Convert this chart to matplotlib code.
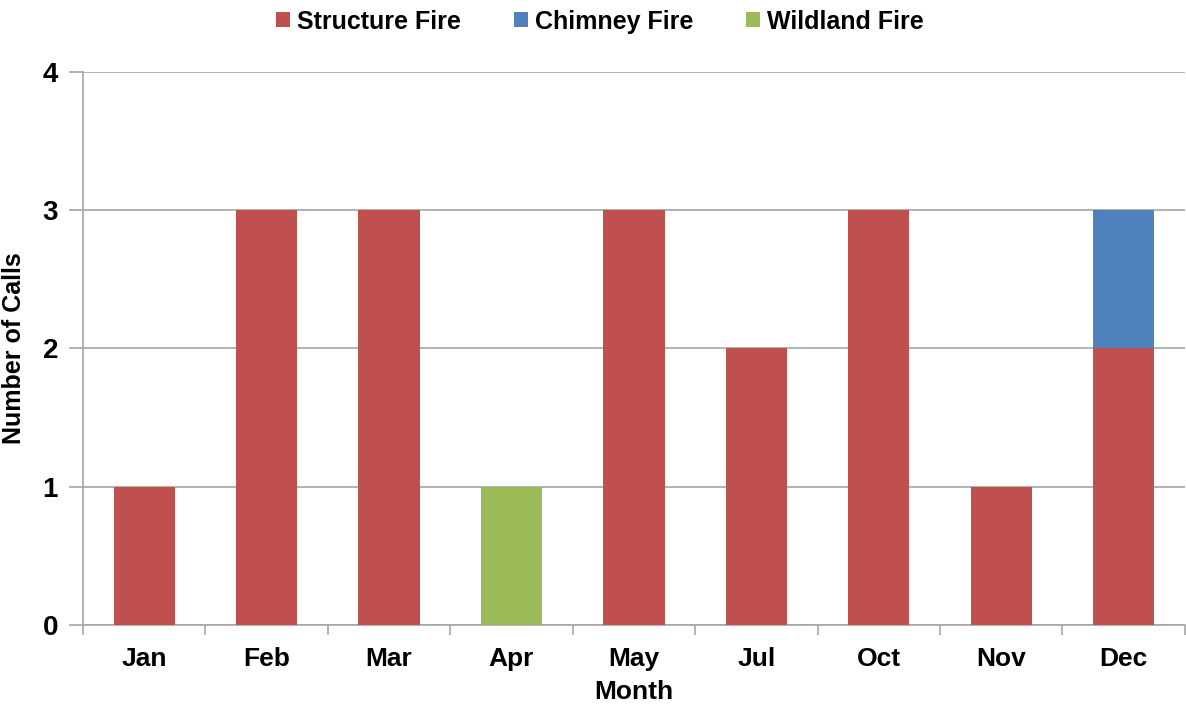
import numpy as np
import matplotlib.pyplot as plt

# Data
months = ['Jan', 'Feb', 'Mar', 'Apr', 'May', 'Jul', 'Oct', 'Nov', 'Dec']
structure = [1, 3, 3, 0, 3, 2, 3, 1, 2]
chimney = [0, 0, 0, 0, 0, 0, 0, 0, 1]
wildland = [0, 0, 0, 1, 0, 0, 0, 0, 0]

plt.rcParams['font.family'] = ['Liberation Sans', 'DejaVu Sans']
plt.rcParams['font.weight'] = 'bold'

fig = plt.figure(figsize=(11.86, 7.09), dpi=100)
ax = fig.add_axes([0.070, 0.1185, 0.929, 0.78])

x = np.arange(len(months))
w = 0.5
s = np.array(structure)
c = np.array(chimney)
wl = np.array(wildland)

ax.bar(x, s, w, color='#C0504D', label='Structure Fire', zorder=3)
ax.bar(x, c, w, bottom=s, color='#4F81BD', label='Chimney Fire', zorder=3)
ax.bar(x, wl, w, bottom=s + c, color='#9BBB59', label='Wildland Fire', zorder=3)

ax.set_xlim(-0.5, len(months) - 0.5)
ax.set_ylim(0, 4)
ax.set_yticks([0, 1, 2, 3, 4])
ax.yaxis.grid(True, color='#A6A6A6', linewidth=1.2, zorder=0)

# month labels centred, tick marks between categories
ax.set_xticks(x)
ax.set_xticklabels(months)
ax.set_xticks(np.arange(-0.5, len(months) - 0.4, 1), minor=True)
ax.tick_params(axis='x', which='major', length=0, pad=16, labelsize=19)
ax.tick_params(axis='x', which='minor', length=7, color='#A6A6A6', width=1.2)
ax.tick_params(axis='y', length=10, color='#A6A6A6', width=1.2, pad=8, labelsize=20)

for side in ['top', 'right']:
    ax.spines[side].set_visible(False)
for side in ['left', 'bottom']:
    ax.spines[side].set_color('#A6A6A6')
    ax.spines[side].set_linewidth(1.2)

ax.set_xlabel('Month', fontsize=19, fontweight='bold', labelpad=6)
ax.set_ylabel('Number of Calls', fontsize=18, fontweight='bold', labelpad=12)

fig.legend(loc='upper center', bbox_to_anchor=(0.506, 1.018), ncol=3, frameon=False,
           fontsize=18, handlelength=0.55, handleheight=0.55, handletextpad=0.3,
           columnspacing=2.1)

fig.savefig('out.png', dpi=100)
